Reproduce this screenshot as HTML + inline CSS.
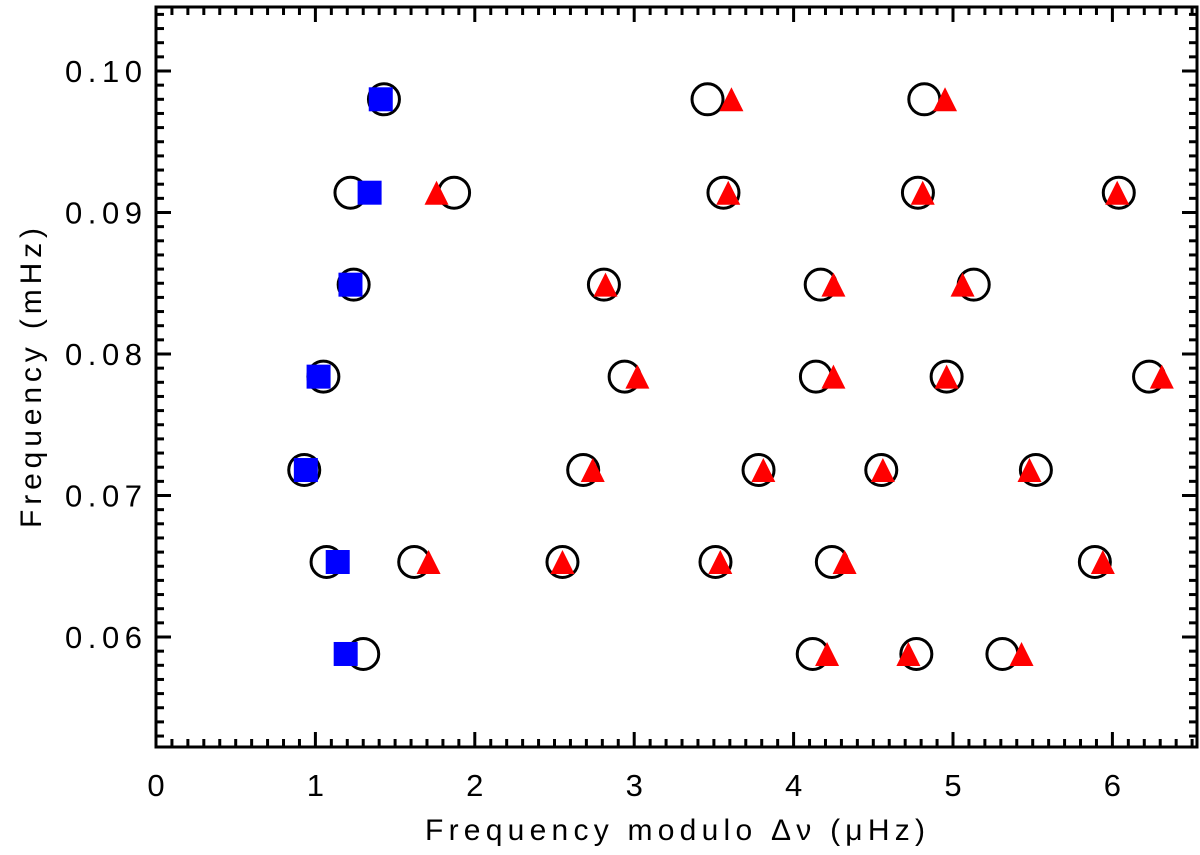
<!DOCTYPE html>
<html><head><meta charset="utf-8"><style>
html,body{margin:0;padding:0;background:#fff;}
svg{display:block;font-family:"Liberation Sans",sans-serif;}
</style></head><body>
<svg id="chart" width="1200" height="855"></svg>
<script>
const rowFreqs=[0.0980,0.0914,0.0849,0.0784,0.0718,0.0653,0.0588];
const circleX=[[1.43,3.46,4.82],[1.22,1.87,3.56,4.78,6.04],[1.24,2.81,4.17,5.13],[1.05,2.94,4.14,4.96,6.23],[0.93,2.68,3.78,4.55,5.52],[1.07,1.62,2.55,3.51,4.24,5.89],[1.30,4.12,4.77,5.31]];
const triangleX=[[3.61,4.95],[1.76,3.59,4.81,6.03],[2.82,4.25,5.06],[3.02,4.25,4.96,6.31],[2.74,3.81,4.56,5.48],[1.71,2.55,3.54,4.32,5.94],[4.21,4.72,5.43]];
const squareX=[1.41,1.34,1.22,1.02,0.94,1.14,1.19];
const xTicks=[0,1,2,3,4,5,6];
const yTicks=[0.06,0.07,0.08,0.09,0.10];
const yTickLabels=["0.06","0.07","0.08","0.09","0.10"];

const L=156,R=1197,T=7,B=747;
const xMin=0,xMax=(R-L)/159.4;
const yMin=0.06-(B-637)/14150,yMax=0.06+(637-T)/14150;
const sx=v=>L+(v-xMin)/(xMax-xMin)*(R-L);
const sy=v=>B-(v-yMin)/(yMax-yMin)*(B-T);
const NS="http://www.w3.org/2000/svg";
const svg=document.getElementById('chart');
function mk(tag,attrs,parent){const e=document.createElementNS(NS,tag);for(const k in attrs)e.setAttribute(k,attrs[k]);(parent||svg).appendChild(e);return e;}

const frame=mk('rect',{x:L,y:T,width:R-L,height:B-T,fill:'none',stroke:'#000','stroke-width':3});



const tg=mk('g',{stroke:'#000','stroke-width':3});


for(let i=0;i<=Math.floor(xMax*10);i++){
  const v=i/10,x=sx(v),len=(i%10===0)?15:8;
  mk('line',{x1:x,y1:B,x2:x,y2:B-len},tg);
  mk('line',{x1:x,y1:T,x2:x,y2:T+len},tg);
}
for(let i=Math.ceil(yMin*1000);i<=Math.floor(yMax*1000);i++){
  const v=i/1000,y=sy(v),len=(i%10===0)?15:8;
  mk('line',{x1:L,y1:y,x2:L+len,y2:y},tg);
  mk('line',{x1:R,y1:y,x2:R-len,y2:y},tg);
}
xTicks.forEach(v=>{
  const t=mk('text',{x:sx(v),y:B+49,'text-anchor':'middle','font-size':31,fill:'#000'});
  t.textContent=String(v);
  
  
});
yTicks.forEach((v,i)=>{
  const t=mk('text',{x:L-14,y:sy(v)+11,'text-anchor':'end','font-size':31,fill:'#000',textLength:77,lengthAdjust:'spacing'});
  t.textContent=yTickLabels[i];
  
  
});
const xt=mk('text',{x:675,y:840,'text-anchor':'middle','font-size':30,fill:'#000',textLength:500,lengthAdjust:'spacing'});
xt.textContent='Frequency modulo Δν (μHz)';


const yt=mk('text',{x:0,y:0,'text-anchor':'middle','font-size':30,fill:'#000',textLength:300,lengthAdjust:'spacing',transform:'translate(41,378) rotate(-90)'});
yt.textContent='Frequency (mHz)';



rowFreqs.forEach((f,r)=>{
  circleX[r].forEach(v=>{
    const c=mk('circle',{cx:sx(v),cy:sy(f),r:15.5,fill:'none',stroke:'#000','stroke-width':3});
    
    
  });
});
rowFreqs.forEach((f,r)=>{
  triangleX[r].forEach(v=>{
    const x=sx(v),y=sy(f);
    const p=mk('polygon',{points:`${x},${y-12} ${x-12},${y+12} ${x+12},${y+12}`,fill:'#f00'});
    
    
  });
});
rowFreqs.forEach((f,r)=>{
  const x=sx(squareX[r]),y=sy(f);
  const s=mk('rect',{x:x-12,y:y-12,width:24,height:24,fill:'#00f'});
  
  
});
</script>
</body></html>
